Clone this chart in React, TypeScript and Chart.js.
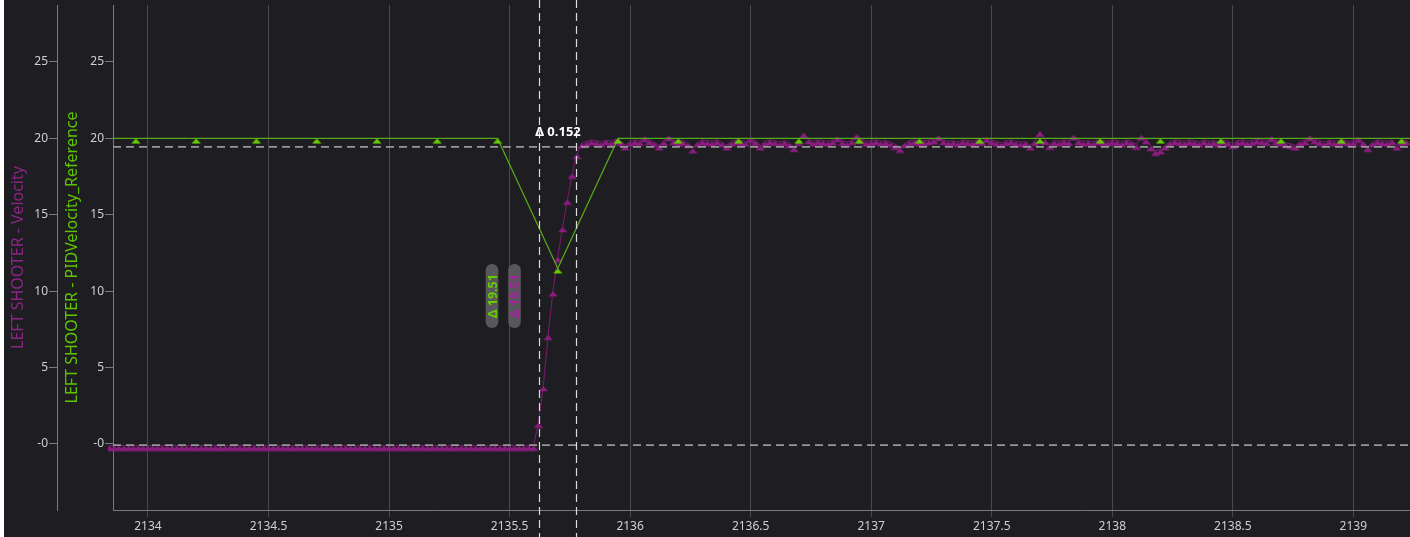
import React, { useEffect, useRef } from 'react';
import { Chart, registerables } from 'chart.js';

Chart.register(...registerables);

// ---- data ----
const xTickValues = [2134, 2134.5, 2135, 2135.5, 2136, 2136.5, 2137, 2137.5, 2138, 2138.5, 2139];
const yTickValues = [0, 5, 10, 15, 20, 25];
const xRange = [2133.855, 2139.235];
const yRange = [-4.32, 28.73];

// LEFT SHOOTER - PIDVelocity_Reference (sampled every 0.25 s)
const referenceTimes = [
  2133.70, 2133.95, 2134.20, 2134.45, 2134.70, 2134.95, 2135.20, 2135.45,
  2135.70, 2135.95, 2136.20, 2136.45, 2136.70, 2136.95, 2137.20, 2137.45,
  2137.70, 2137.95, 2138.20, 2138.45, 2138.70, 2138.95, 2139.20, 2139.45,
];
const referenceValues = [
  20, 20, 20, 20, 20, 20, 20, 20,
  11.5, 20, 20, 20, 20, 20, 20, 20,
  20, 20, 20, 20, 20, 20, 20, 20,
];

// LEFT SHOOTER - Velocity (sampled every 0.02 s starting at velocityStart)
const velocityStart = 2133.84;
const velocityStep = 0.02;
const velocityValues = [
  -0.1, -0.1, -0.1, -0.1, -0.1, -0.1, -0.1, -0.1, -0.1, -0.1,
  -0.1, -0.1, -0.1, -0.1, -0.1, -0.1, -0.1, -0.1, -0.1, -0.1,
  -0.1, -0.1, -0.1, -0.1, -0.1, -0.1, -0.1, -0.1, -0.1, -0.1,
  -0.1, -0.1, -0.1, -0.1, -0.1, -0.1, -0.1, -0.1, -0.1, -0.1,
  -0.1, -0.1, -0.1, -0.1, -0.1, -0.1, -0.1, -0.1, -0.1, -0.1,
  -0.1, -0.1, -0.1, -0.1, -0.1, -0.1, -0.1, -0.1, -0.1, -0.1,
  -0.1, -0.1, -0.1, -0.1, -0.1, -0.1, -0.1, -0.1, -0.1, -0.1,
  -0.1, -0.1, -0.1, -0.1, -0.1, -0.1, -0.1, -0.1, -0.1, -0.1,
  -0.1, -0.1, -0.1, -0.1, -0.1, -0.1, -0.1, -0.1, -0.1,
  1.4, 3.8, 7.15, 10.0, 12.25, 14.2, 16.0, 17.7, 19.0, 19.7,
  19.8, 19.9, 19.85, 19.75, 19.9, 19.8, 19.95, 19.85, 19.55, 19.8,
  19.9, 19.85, 20.1, 19.9, 19.75, 19.55, 19.85, 20.15, 19.9, 19.8,
  19.85, 19.7, 19.35, 19.75, 19.9, 19.85, 19.8, 19.9, 19.75, 19.55,
  19.8, 19.9, 19.85, 19.8, 20.05, 19.85, 19.55, 19.8, 19.9, 19.85,
  19.75, 19.85, 19.7, 19.45, 19.85, 20.35, 19.95, 19.8, 19.9, 19.85,
  19.8, 19.9, 20.1, 19.85, 19.75, 19.9, 20.25, 19.95, 19.8, 19.85,
  19.9, 19.8, 19.85, 19.75, 19.6, 19.4, 19.7, 19.85, 19.9, 19.8,
  19.85, 19.9, 19.95, 20.15, 19.9, 19.8, 19.85, 19.75, 19.9, 19.85,
  19.8, 19.9, 19.85, 20.05, 19.9, 19.8, 19.7, 19.85, 19.9, 19.8,
  19.75, 19.8, 19.55, 19.85, 20.45, 19.9, 19.6, 19.85, 19.8, 19.9,
  19.85, 20.2, 19.9, 19.8, 19.85, 19.75, 19.9, 19.85, 19.8, 19.9,
  19.85, 19.75, 19.9, 19.8, 19.6, 20.2, 19.95, 19.5, 19.2, 19.3,
  19.55, 19.8, 19.9, 19.85, 19.8, 19.9, 19.85, 19.75, 19.9, 19.8,
  19.85, 19.75, 19.9, 19.8, 19.65, 19.85, 19.9, 19.8, 19.85, 19.95,
  19.9, 19.85, 20.1, 19.9, 19.8, 19.7, 19.65, 19.55, 19.8, 19.9,
  20.15, 19.95, 19.85, 19.75, 19.9, 19.8, 19.85, 19.9, 19.8, 19.85,
  20.05, 19.8, 19.45, 19.75, 19.9, 19.85, 19.8, 19.9, 19.55, 19.85,
  19.9,
];

// cursors
const timeCursors = [2135.622, 2135.774];
const valueCursors = [19.44, -0.07];

const velocityTitle = 'LEFT SHOOTER - Velocity';
const referenceTitle = 'LEFT SHOOTER - PIDVelocity_Reference';

// ---- styles ----
const BG = '#1e1e22';
const PURPLE = '#8c1d80';
const PURPLE_TEXT = '#8a2584';
const GREEN = '#66cc00';
const GREEN_LINE = '#57a81a';
const GREEN_TEXT = '#5ec400';
const FONT = '"Segoe UI", "Noto Sans", "Open Sans", sans-serif';

function makeTriangle(color: string): HTMLCanvasElement {
  const c = document.createElement('canvas');
  c.width = 10;
  c.height = 12;
  const g = c.getContext('2d')!;
  g.fillStyle = color;
  g.beginPath();
  g.moveTo(5, 6);
  g.lineTo(9.7, 11.3);
  g.lineTo(0.3, 11.3);
  g.closePath();
  g.fill();
  return c;
}

function roundRect(ctx: CanvasRenderingContext2D, x: number, y: number, w: number, h: number, r: number) {
  ctx.beginPath();
  ctx.moveTo(x + r, y);
  ctx.lineTo(x + w - r, y);
  ctx.arcTo(x + w, y, x + w, y + r, r);
  ctx.lineTo(x + w, y + h - r);
  ctx.arcTo(x + w, y + h, x + w - r, y + h, r);
  ctx.lineTo(x + r, y + h);
  ctx.arcTo(x, y + h, x, y + h - r, r);
  ctx.lineTo(x, y + r);
  ctx.arcTo(x, y, x + r, y, r);
  ctx.closePath();
}

const cursorPlugin = {
  id: 'cursors',
  afterDatasetsDraw(chart: any) {
    const { ctx, chartArea: ca, scales } = chart;
    const xs = scales.x;
    const ys = scales.yRef;
    ctx.save();
    // horizontal cursors
    ctx.strokeStyle = '#979797';
    ctx.lineWidth = 1.7;
    ctx.setLineDash([8, 5]);
    valueCursors.forEach((v) => {
      const py = ys.getPixelForValue(v);
      ctx.beginPath();
      ctx.moveTo(ca.left, py);
      ctx.lineTo(ca.right, py);
      ctx.stroke();
    });
    // vertical cursors
    ctx.strokeStyle = '#dcdcdc';
    ctx.lineWidth = 1.2;
    const pxs = timeCursors.map((t) => Math.round(xs.getPixelForValue(t)) + 0.5);
    pxs.forEach((px) => {
      ctx.beginPath();
      ctx.moveTo(px, 0);
      ctx.lineTo(px, chart.height);
      ctx.stroke();
    });
    ctx.setLineDash([]);

    // delta time label
    const dt = (timeCursors[1] - timeCursors[0]).toFixed(3);
    const yTop = ys.getPixelForValue(valueCursors[0]);
    const yBot = ys.getPixelForValue(valueCursors[1]);
    ctx.font = `bold 13px ${FONT}`;
    ctx.fillStyle = '#ffffff';
    ctx.textAlign = 'center';
    ctx.textBaseline = 'middle';
    ctx.fillText(`Δ ${dt}`, (pxs[0] + pxs[1]) / 2, yTop - 15);

    // delta value pills
    const dv = (valueCursors[0] - valueCursors[1]).toFixed(2);
    const midY = (yTop + yBot) / 2;
    const pills = [
      { dx: -47.5, color: GREEN },
      { dx: -25, color: '#a3229a' },
    ];
    pills.forEach((p) => {
      const cx = pxs[0] + p.dx;
      ctx.fillStyle = 'rgba(92,92,96,0.95)';
      roundRect(ctx, cx - 6.3, midY - 32, 12.6, 64, 6);
      ctx.fill();
      ctx.save();
      ctx.translate(cx, midY);
      ctx.rotate(-Math.PI / 2);
      ctx.fillStyle = p.color;
      ctx.font = `bold 12.5px ${FONT}`;
      ctx.textAlign = 'center';
      ctx.textBaseline = 'middle';
      ctx.fillText(`Δ ${dv}`, 0, 1);
      ctx.restore();
    });
    ctx.restore();
  },
};

function yAxis(title: string, color: string, weight: number, width: number, titlePad: number) {
  return {
    type: 'linear',
    position: 'left',
    weight,
    min: yRange[0],
    max: yRange[1],
    afterBuildTicks: (a: any) => {
      a.ticks = yTickValues.map((v) => ({ value: v }));
    },
    afterFit: (a: any) => {
      a.width = width;
      a.paddingTop = 0;
      a.paddingBottom = 0;
    },
    ticks: {
      color: '#d0d0d0',
      font: { size: 12, family: FONT },
      padding: 1,
      callback: (v: number) => (v === 0 ? '-0' : String(v)),
    },
    grid: { drawOnChartArea: false, color: '#7a7a7a', tickLength: 8 },
    border: { display: true, color: '#7a7a7a' },
    title: {
      display: true,
      text: title,
      color,
      font: { size: 16, family: FONT },
      padding: { top: titlePad, bottom: 0 },
    },
  };
}

export default function App() {
  const canvasRef = useRef<HTMLCanvasElement>(null);

  useEffect(() => {
    document.body.style.margin = '0';
    const canvas = canvasRef.current!;
    const purpleTri = makeTriangle(PURPLE);
    const greenTri = makeTriangle(GREEN);

    const referenceData = referenceTimes.map((t, i) => ({ x: t, y: referenceValues[i] }));
    const velocityData = velocityValues.map((v, i) => ({ x: velocityStart + velocityStep * i, y: v }));

    const chart = new Chart(canvas, {
      type: 'line',
      data: {
        datasets: [
          {
            label: referenceTitle,
            data: referenceData,
            yAxisID: 'yRef',
            borderColor: GREEN_LINE,
            borderWidth: 1.2,
            pointStyle: greenTri as any,
            pointRadius: 4.5,
            backgroundColor: GREEN,
            tension: 0,
            order: 0,
            clip: { left: 0, right: 0, top: 5, bottom: 5 } as any,
          },
          {
            label: velocityTitle,
            data: velocityData,
            yAxisID: 'yVel',
            borderColor: '#7e1a74',
            borderWidth: 1,
            pointStyle: purpleTri as any,
            pointRadius: 4.5,
            backgroundColor: PURPLE,
            tension: 0,
            order: 1,
            clip: { left: 5, right: 5, top: 5, bottom: 5 } as any,
          },
        ],
      },
      options: {
        responsive: false,
        animation: false,
        devicePixelRatio: 1,
        events: [],
        layout: { autoPadding: false, padding: { left: 0, top: 5, right: 0, bottom: 0 } },
        plugins: { legend: { display: false }, tooltip: { enabled: false } },
        scales: {
          x: {
            type: 'linear',
            min: xRange[0],
            max: xRange[1],
            afterBuildTicks: (a: any) => {
              a.ticks = xTickValues.map((v) => ({ value: v }));
            },
            afterFit: (a: any) => {
              a.height = 27;
              a.paddingLeft = 0;
              a.paddingRight = 0;
            },
            ticks: {
              color: '#d0d0d0',
              font: { size: 12, family: FONT },
              padding: 2,
              maxRotation: 0,
              autoSkip: false,
              callback: (v: number) => String(v),
            },
            grid: { color: '#48484d', tickLength: 7 },
            border: { display: true, color: '#7a7a7a' },
          },
          yVel: yAxis(velocityTitle, PURPLE_TEXT, 1, 53, 5.2),
          yRef: yAxis(referenceTitle, GREEN_TEXT, 0, 56, 6.2),
        } as any,
      },
      plugins: [cursorPlugin],
    });
    return () => chart.destroy();
  }, []);

  return (
    <div style={{ position: 'fixed', left: 0, top: 0, width: 1410, height: 537, background: '#ffffff' }}>
      <div style={{ position: 'absolute', left: 4, top: 0, width: 1406, height: 537, background: BG }}>
        <canvas ref={canvasRef} width={1406} height={537} style={{ display: 'block' }} />
      </div>
    </div>
  );
}
